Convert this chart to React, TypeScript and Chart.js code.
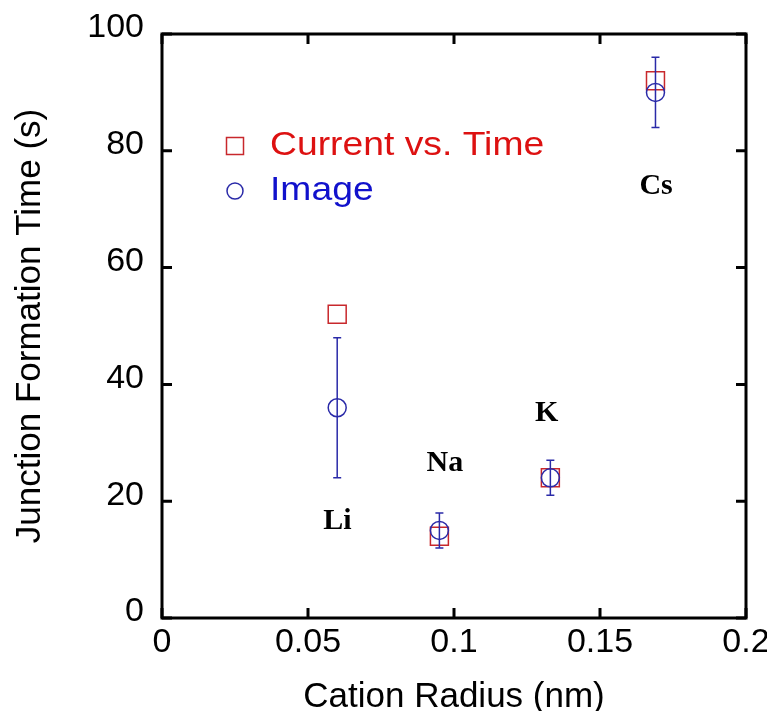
import React, { useEffect, useRef } from "react";
import { Chart, registerables } from "chart.js";

Chart.register(...registerables);

// ---- data ----
const cations = ["Li", "Na", "K", "Cs"];
const cationRadius = [0.06, 0.095, 0.133, 0.169];
const currentVsTime = [52, 14, 24, 92];
const imageTime = [36, 15, 24, 90];
const imageErrLow = [24, 12, 21, 84];
const imageErrHigh = [48, 18, 27, 96];
const labelX = [0.0601, 0.0969, 0.1317, 0.1692];
const labelY = [16.6, 26.5, 35.1, 73.9];
const xTickLabels = ["0", "0.05", "0.1", "0.15", "0.2"];
const yTickLabels = ["0", "20", "40", "60", "80", "100"];
const seriesNames = ["Current vs. Time", "Image"];

const RED = "#c8282c";
const BLUE = "#2a2aa8";
const RED_TEXT = "#dd1111";
const BLUE_TEXT = "#1111cc";
const AXIS_FONT = "Liberation Sans, Arial, sans-serif";

const decorPlugin = {
  id: "decor",
  afterDatasetsDraw(chart: any) {
    const ctx = chart.ctx;
    const xs = chart.scales.x;
    const ys = chart.scales.y;
    // error bars
    ctx.save();
    ctx.strokeStyle = BLUE;
    ctx.lineWidth = 1.5;
    for (let i = 0; i < cationRadius.length; i++) {
      const px = xs.getPixelForValue(cationRadius[i]);
      const pLo = ys.getPixelForValue(imageErrLow[i]);
      const pHi = ys.getPixelForValue(imageErrHigh[i]);
      ctx.beginPath();
      ctx.moveTo(px, pLo);
      ctx.lineTo(px, pHi);
      ctx.moveTo(px - 4, pLo);
      ctx.lineTo(px + 4, pLo);
      ctx.moveTo(px - 4, pHi);
      ctx.lineTo(px + 4, pHi);
      ctx.stroke();
    }
    ctx.restore();

    // cation labels
    ctx.save();
    ctx.fillStyle = "#000";
    ctx.font = "bold 30px 'Liberation Serif', 'Times New Roman', serif";
    ctx.textAlign = "center";
    ctx.textBaseline = "middle";
    for (let i = 0; i < cations.length; i++) {
      ctx.fillText(cations[i], xs.getPixelForValue(labelX[i]), ys.getPixelForValue(labelY[i]));
    }
    ctx.restore();

    // legend
    const area = chart.chartArea;
    const lx = area.left + 73;
    const ly1 = area.top + 112;
    const ly2 = area.top + 157;
    ctx.save();
    ctx.lineWidth = 1.5;
    ctx.strokeStyle = RED;
    ctx.strokeRect(lx - 8.5, ly1 - 8.5, 17, 17);
    ctx.strokeStyle = BLUE;
    ctx.beginPath();
    ctx.arc(lx, ly2, 8, 0, Math.PI * 2);
    ctx.stroke();
    ctx.font = "33px " + AXIS_FONT;
    ctx.textBaseline = "middle";
    ctx.textAlign = "left";
    ctx.translate(lx + 35, 0);
    ctx.scale(1.13, 1);
    ctx.fillStyle = RED_TEXT;
    ctx.fillText(seriesNames[0], 0, ly1);
    ctx.fillStyle = BLUE_TEXT;
    ctx.fillText(seriesNames[1], 0, ly2);
    ctx.restore();
  },
  afterDraw(chart: any) {
    const ctx = chart.ctx;
    const { left, right, top, bottom } = chart.chartArea;
    const xs = chart.scales.x;
    const ys = chart.scales.y;
    ctx.save();
    ctx.strokeStyle = "#000";
    ctx.lineWidth = 3;
    ctx.strokeRect(left, top, right - left, bottom - top);
    const tl = 10;
    ctx.beginPath();
    xs.ticks.forEach((t: any) => {
      const p = xs.getPixelForValue(t.value);
      ctx.moveTo(p, bottom);
      ctx.lineTo(p, bottom - tl);
      ctx.moveTo(p, top);
      ctx.lineTo(p, top + tl);
    });
    ys.ticks.forEach((t: any) => {
      const p = ys.getPixelForValue(t.value);
      ctx.moveTo(left, p);
      ctx.lineTo(left + tl, p);
      ctx.moveTo(right, p);
      ctx.lineTo(right - tl, p);
    });
    ctx.stroke();
    ctx.restore();
  },
};

export default function App() {
  const ref = useRef<HTMLCanvasElement | null>(null);
  useEffect(() => {
    if (!ref.current) return;
    const chart = new Chart(ref.current, {
      type: "scatter",
      data: {
        datasets: [
          {
            label: seriesNames[0],
            data: cationRadius.map((x, i) => ({ x, y: currentVsTime[i] })),
            pointStyle: "rect",
            pointRadius: 12.7,
            pointHoverRadius: 12.7,
            pointBorderWidth: 1.5,
            borderColor: RED,
            backgroundColor: "rgba(0,0,0,0)",
            order: 2,
          },
          {
            label: seriesNames[1],
            data: cationRadius.map((x, i) => ({ x, y: imageTime[i] })),
            pointStyle: "circle",
            pointRadius: 9,
            pointHoverRadius: 9,
            pointBorderWidth: 1.5,
            borderColor: BLUE,
            backgroundColor: "rgba(0,0,0,0)",
            order: 1,
          },
        ],
      },
      options: {
        responsive: false,
        animation: false,
        events: [],
        layout: { padding: { top: 26, right: 21, left: 0, bottom: 0 } },
        plugins: { legend: { display: false }, tooltip: { enabled: false } },
        scales: {
          x: {
            type: "linear",
            min: 0,
            max: 0.2,
            grid: { display: false, drawTicks: false },
            border: { display: false },
            ticks: {
              stepSize: 0.05,
              padding: 4,
              color: "#000",
              font: { size: 34, family: AXIS_FONT },
              maxRotation: 0,
              autoSkip: false,
              callback: (_v: any, i: number) => xTickLabels[i],
            },
            title: {
              display: true,
              text: "Cation Radius (nm)",
              color: "#000",
              font: { size: 35, family: AXIS_FONT, lineHeight: 1 },
              padding: { top: 0, bottom: -4 },
            },
            afterFit: (s: any) => {
              s.height = 93;
              s.paddingLeft = 0;
              s.paddingRight = 0;
            },
          },
          y: {
            type: "linear",
            min: 0,
            max: 100,
            grid: { display: false, drawTicks: false },
            border: { display: false },
            ticks: {
              stepSize: 20,
              padding: 18,
              labelOffset: -6,
              color: "#000",
              font: { size: 34, family: AXIS_FONT },
              autoSkip: false,
              callback: (_v: any, i: number) => yTickLabels[i],
            },
            title: {
              display: true,
              text: "Junction Formation Time (s)",
              color: "#000",
              font: { size: 35, family: AXIS_FONT, lineHeight: 1 },
              padding: { top: 5, bottom: 0 },
            },
            afterFit: (s: any) => {
              s.width = 154;
              s.paddingTop = 0;
              s.paddingBottom = 0;
            },
          },
        },
      },
      plugins: [decorPlugin],
    } as any);
    return () => chart.destroy();
  }, []);
  return (
    <div style={{ width: 759, height: 703 }}>
      <canvas ref={ref} width={759} height={703} style={{ display: "block" }} />
    </div>
  );
}
